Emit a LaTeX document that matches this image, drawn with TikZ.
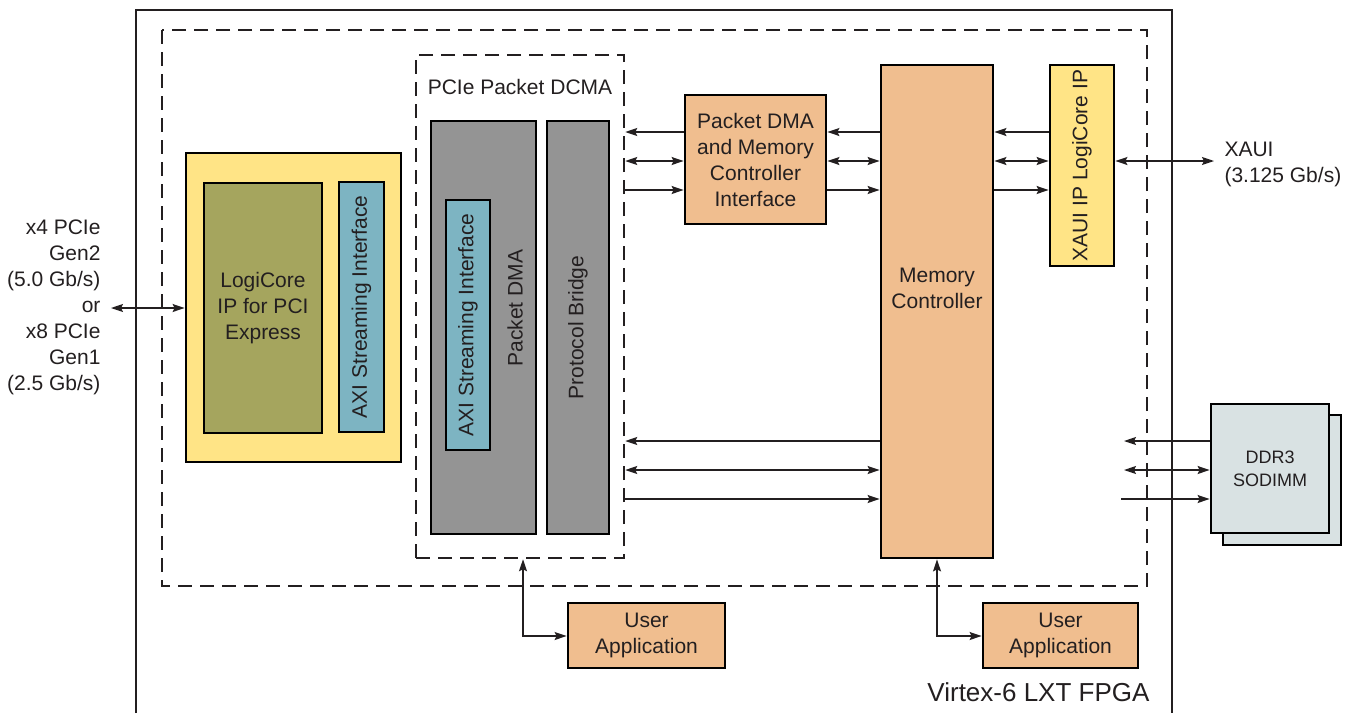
\documentclass[tikz,border=0pt]{standalone}
\usepackage{fontspec}
\setmainfont{Liberation Sans}
\usetikzlibrary{arrows.meta}
\definecolor{cYel}{HTML}{FFE486}
\definecolor{cOli}{HTML}{A5A55E}
\definecolor{cBlu}{HTML}{7DB4C2}
\definecolor{cGry}{HTML}{949494}
\definecolor{cOrg}{HTML}{F0BE8F}
\definecolor{cDdr}{HTML}{D9E2E3}
\definecolor{cTxt}{HTML}{231F20}
\begin{document}
\begin{tikzpicture}[x=1pt,y=-1pt,
  every node/.style={text=cTxt, font=\fontsize{21}{26}\selectfont},
  blk/.style={draw=black, line width=2.8pt, inner sep=0pt, align=center},
  dsh/.style={draw=cTxt, line width=2.5pt, dash pattern=on 14pt off 8pt},
  arr/.style={draw=cTxt, line width=1.4pt},
  >={Stealth[length=12pt,width=8pt,inset=2pt]}]
\useasboundingbox (0,0) rectangle (1351,713);
% FPGA outline
\draw[line width=2pt, draw=cTxt] (136,713) -- (136,10) -- (1172,10) -- (1172,713);
\node[anchor=east, font=\fontsize{26}{30}\selectfont] (virtex) at (1153,692) {Virtex-6 LXT FPGA};
% outer dashed region
\draw[dsh] (162,30) rectangle (1147,586);
% PCIe packet DCMA dashed box
\node[dsh, minimum width=208pt, minimum height=503pt, inner sep=0pt] (dcma) at (520,306.5) {};
\node (dcmalbl) at (520,87) {PCIe Packet DCMA};
% LogiCore PCIe block
\node[blk, fill=cYel, minimum width=215pt, minimum height=309pt] (logi) at (293.5,307.5) {};
\node[blk, fill=cOli, minimum width=118pt, minimum height=250pt] (ip) at (263,308) {LogiCore\\IP for PCI\\Express};
\node[blk, fill=cBlu, minimum width=45pt, minimum height=250pt] (axia) at (361.5,307) {};
\node[rotate=90] (axialbl) at (axia.center) {AXI Streaming Interface};
% Packet DMA
\node[blk, fill=cGry, minimum width=105pt, minimum height=413pt] (pdma) at (483.5,327.5) {};
\node[blk, fill=cBlu, minimum width=44pt, minimum height=250pt] (axib) at (468,325) {};
\node[rotate=90] (axiblbl) at (axib.center) {AXI Streaming Interface};
\node[rotate=90] (pdmalbl) at (515,308) {Packet DMA};
% Protocol bridge
\node[blk, fill=cGry, minimum width=62pt, minimum height=413pt] (pb) at (578,327.5) {};
\node[rotate=90] (pblbl) at (pb.center) {Protocol Bridge};
% Packet DMA and MC interface
\node[blk, fill=cOrg, minimum width=141pt, minimum height=129pt] (pif) at (755.5,159.5) {Packet DMA\\and Memory\\Controller\\Interface};
% Memory controller
\node[blk, fill=cOrg, minimum width=112pt, minimum height=493pt] (mc) at (937,311.5) {};
\node[align=center] (mclbl) at (937,288) {Memory\\Controller};
% XAUI
\node[blk, fill=cYel, minimum width=64pt, minimum height=201pt] (xaui) at (1082,165.5) {};
\node[rotate=90] (xauilbl) at (xaui.center) {XAUI IP LogiCore IP};
% DDR3
\node[blk, fill=cDdr, minimum width=118pt, minimum height=130pt] (ddrs) at (1282,480) {};
\node[blk, fill=cDdr, minimum width=118pt, minimum height=129pt, font=\fontsize{18}{23}\selectfont] (ddr) at (1270,468.5) {DDR3\\SODIMM};
% User applications
\node[blk, fill=cOrg, minimum width=157pt, minimum height=65pt] (ua1) at (646.5,635.5) {User\\Application};
\node[blk, fill=cOrg, minimum width=155pt, minimum height=65pt] (ua2) at (1060.5,635.5) {User\\Application};
% left PCIe label
\node[anchor=east, align=right] (pcielbl) at (104,307) {x4 PCIe\\Gen2\\(5.0 Gb/s)\\or\\x8 PCIe\\Gen1\\(2.5 Gb/s)};
\coordinate (pcieend) at (111,308);
\draw[arr,<->] (pcieend) -- (logi.west |- pcieend);
% XAUI external
\node[anchor=west, align=left] (xauitxt) at (1221,164) {XAUI\\(3.125 Gb/s)};
\coordinate (xauiend) at (1214,161);
\draw[arr,<->] (xaui.east |- xauiend) -- (xauiend);
% upper arrows: dcma <-> pif
\draw[arr,<-] (dcma.east |- 0,132) -- (pif.west |- 0,132);
\draw[arr,<->] (dcma.east |- 0,161) -- (pif.west |- 0,161);
\draw[arr,->] (dcma.east |- 0,190) -- (pif.west |- 0,190);
% pif <-> mc
\draw[arr,<-] (pif.east |- 0,132) -- (mc.west |- 0,132);
\draw[arr,<->] (pif.east |- 0,161) -- (mc.west |- 0,161);
\draw[arr,->] (pif.east |- 0,190) -- (mc.west |- 0,190);
% mc <-> xaui
\draw[arr,<-] (mc.east |- 0,132) -- (xaui.west |- 0,132);
\draw[arr,<->] (mc.east |- 0,161) -- (xaui.west |- 0,161);
\draw[arr,->] (mc.east |- 0,190) -- (xaui.west |- 0,190);
% lower arrows: dcma <-> mc
\draw[arr,<-] (dcma.east |- 0,441) -- (mc.west |- 0,441);
\draw[arr,<->] (dcma.east |- 0,470) -- (mc.west |- 0,470);
\draw[arr,->] (dcma.east |- 0,499) -- (mc.west |- 0,499);
% DDR arrows
\coordinate (dA) at (1124,441);
\coordinate (dB) at (1124,470);
\coordinate (dC) at (1121,499);
\draw[arr,<-] (dA) -- (ddr.west |- dA);
\draw[arr,<->] (dB) -- (ddr.west |- dB);
\draw[arr,->] (dC) -- (ddr.west |- dC);
% user app links
\draw[arr,<->] (dcma.south -| 523,0) -- (523,636) -- (ua1.west |- 0,636);
\draw[arr,<->] (mc.south) -- (937,636) -- (ua2.west |- 0,636);
\end{tikzpicture}
\end{document}
